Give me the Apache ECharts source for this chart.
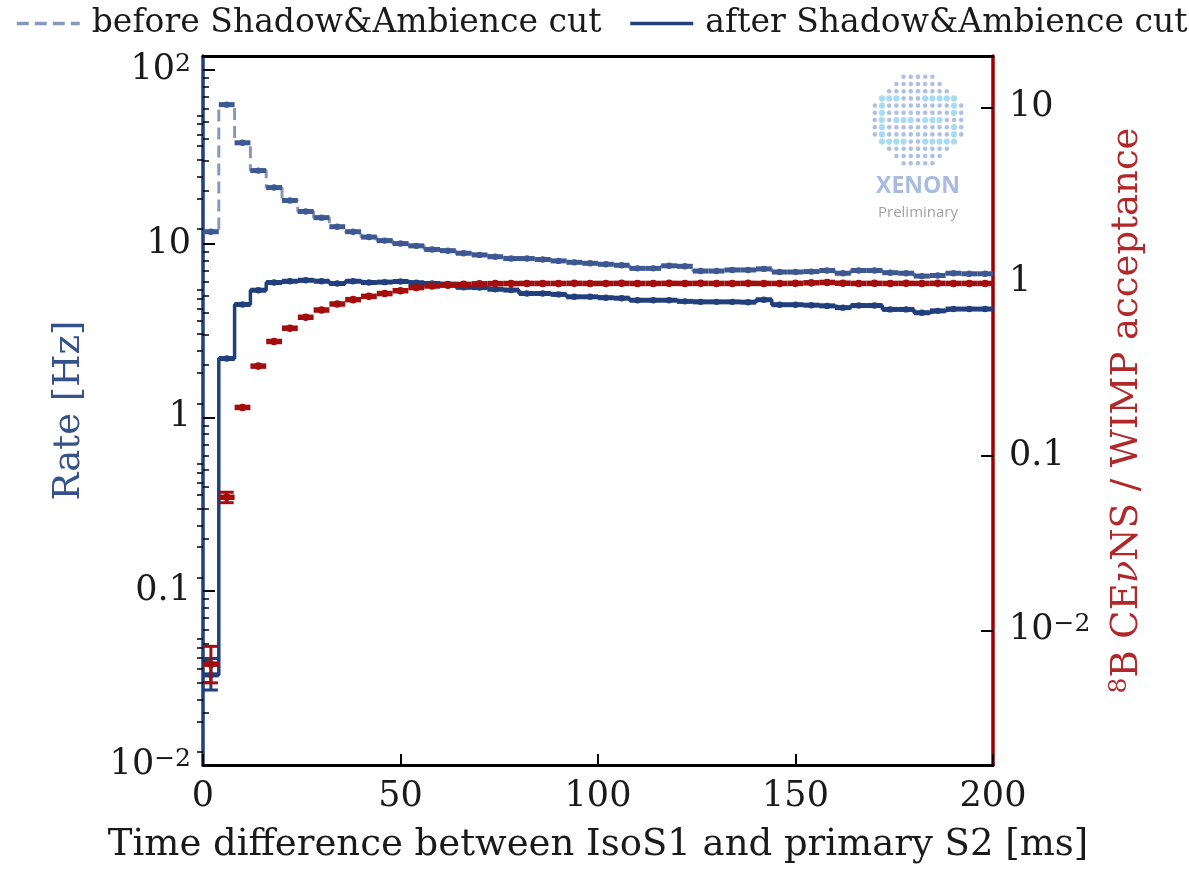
<!DOCTYPE html>
<html><head><meta charset="utf-8">
<script src="https://cdn.jsdelivr.net/npm/echarts@6/dist/echarts.min.js"></script>
<style>html,body{margin:0;padding:0;background:#fff}#chart{width:1189px;height:869px}</style>
</head><body><div id="chart"></div>
<script>
// ---- data ----
const binCenters = [2,6,10,14,18,22,26,30,34,38,42,46,50,54,58,62,66,70,74,78,82,86,90,94,98,102,106,110,114,118,122,126,130,134,138,142,146,150,154,158,162,166,170,174,178,182,186,190,194,198];
const binHalfWidth = 2;
const rateBefore = [11.7,63,38,26.3,21,17.7,15.3,14.1,12.5,11.7,10.9,10.4,10.0,9.7,9.25,9.1,8.8,8.6,8.4,8.2,8.2,8.1,7.95,7.8,7.7,7.6,7.5,7.2,7.2,7.45,7.4,6.95,6.95,7.05,7.05,7.15,6.86,6.86,6.9,7.0,6.75,7.0,7.0,6.8,6.75,6.5,6.55,6.75,6.7,6.7];
const rateAfter = [0.033,2.18,4.46,5.39,5.97,6.07,6.15,6.07,5.89,6.07,5.97,6.0,6.05,5.95,5.89,5.85,5.6,5.58,5.46,5.4,5.16,5.16,5.1,4.94,4.94,4.88,4.85,4.72,4.72,4.72,4.65,4.62,4.62,4.62,4.6,4.75,4.45,4.45,4.42,4.38,4.28,4.4,4.4,4.18,4.18,4.0,4.1,4.2,4.2,4.2];
const acceptance = [0.0064,0.058,0.19,0.328,0.454,0.541,0.625,0.688,0.745,0.789,0.824,0.855,0.887,0.925,0.945,0.955,0.965,0.972,0.975,0.976,0.977,0.977,0.977,0.978,0.977,0.977,0.978,0.977,0.977,0.978,0.977,0.978,0.977,0.977,0.978,0.977,0.977,0.978,0.985,0.99,0.98,0.977,0.978,0.977,0.978,0.977,0.978,0.977,0.977,0.977];
// vertical error bars: [bin index, low, high]
const rateAfterErr = [[0,0.027,0.041]];
const acceptanceErr = [[0,0.0050,0.0081],[1,0.054,0.062]];

const xTicks = [0,50,100,150,200];
const leftTickValues = [0.01,0.1,1,10,100];
const leftTickLabels = ['10{s|\u22122}','0.1','1','10','10{s|2}'];
const rightTickValues = [0.01,0.1,1,10];
const rightTickLabels = ['10{s|\u22122}','0.1','1','10'];

const nameBefore = 'before Shadow&Ambience cut';
const nameAfter = 'after Shadow&Ambience cut';

// ---- styling ----
const FONT = 'DejaVu Serif';
const NAVY = '#213f7c';
const NAVY_LIGHT = '#8798bd';
const NAVY_MID = '#3d5892';
const RED = '#a50d0d';
const TXT = '#1a1a1a';

function minorTicks(lo, hi) {
  const out = [];
  for (let e = -4; e <= 3; e++) for (let m = 2; m <= 9; m++) {
    const v = m * Math.pow(10, e);
    if (v > lo && v < hi) out.push(v);
  }
  return out;
}
function labelFor(values, labels) {
  return function (v) {
    const i = values.findIndex(t => Math.abs(Math.log10(t) - Math.log10(v)) < 1e-6);
    return i >= 0 ? labels[i] : '';
  };
}
const tickRich = {
  s: { fontFamily: FONT, fontSize: 25, lineHeight: 22, verticalAlign: 'top', color: TXT }
};

const LMIN = 0.01, LMAX = 120, RMIN = 0.00169, RMAX = 19.7;

function stepData(vals) {
  const d = binCenters.map((x, i) => [x, vals[i]]);
  d.unshift([binCenters[0] - binHalfWidth, vals[0]]);
  d.push([binCenters[binCenters.length - 1] + binHalfWidth, vals[vals.length - 1]]);
  return d;
}
function errData(vals, errs) {
  return binCenters.map((x, i) => {
    const e = errs.find(r => r[0] === i);
    return [x, vals[i], e ? e[1] : NaN, e ? e[2] : NaN];
  });
}
function errRenderer(color, lw, r) {
  return function (params, api) {
    const x = api.value(0), y = api.value(1), lo = api.value(2), hi = api.value(3);
    const p1 = api.coord([x - binHalfWidth, y]);
    const p2 = api.coord([x + binHalfWidth, y]);
    const c = api.coord([x, y]);
    const children = [
      { type: 'line', shape: { x1: p1[0], y1: p1[1], x2: p2[0], y2: p2[1] }, style: { stroke: color, lineWidth: lw } },
      { type: 'circle', shape: { cx: c[0], cy: c[1], r: r }, style: { fill: color } }
    ];
    if (isFinite(lo) && isFinite(hi)) {
      const a = api.coord([x, lo]), b = api.coord([x, hi]);
      children.push({ type: 'line', shape: { x1: a[0], y1: a[1], x2: b[0], y2: b[1] }, style: { stroke: color, lineWidth: 3 } });
      children.push({ type: 'line', shape: { x1: a[0] - 7, y1: a[1], x2: a[0] + 7, y2: a[1] }, style: { stroke: color, lineWidth: 3 } });
      children.push({ type: 'line', shape: { x1: b[0] - 7, y1: b[1], x2: b[0] + 7, y2: b[1] }, style: { stroke: color, lineWidth: 3 } });
    }
    return { type: 'group', children: children };
  };
}

// logo dots (decoration)
const logo = [];
const LCX = 918, LCY = 120, SP = 7.2;
const hl = (r, c) => (r === 3 && (c <= 3 || c >= 7)) || (r === 9 && (c <= 4 || c >= 7)) ||
  (c === 1 && r >= 3 && r <= 9) || (c === 11 && r >= 3 && r <= 9 && r !== 6) || (r === 6 && c >= 3 && c <= 5) || (r === 6 && c >= 7 && c <= 9);
for (let r = 0; r < 13; r++) for (let c = 0; c < 13; c++) {
  const dx = (c - 6) * SP, dy = (r - 6) * SP;
  if (dx * dx + dy * dy <= 46 * 46) {
    const h = hl(r, c);
    logo.push({ type: 'circle', shape: { cx: LCX + dx, cy: LCY + dy, r: h ? 3.1 : 2.3 }, style: { fill: h ? '#a9dcf2' : '#b0bfe4' }, silent: true });
  }
}
logo.push({ type: 'text', style: { x: LCX, y: 186, text: 'XENON', fill: '#a9bcdf', font: 'bold 23px "Open Sans"', textAlign: 'center', textVerticalAlign: 'middle' } });
logo.push({ type: 'text', style: { x: LCX, y: 213, text: 'Preliminary', fill: '#a2a2a2', font: '15px "Open Sans"', textAlign: 'center', textVerticalAlign: 'middle' } });

const chart = echarts.init(document.getElementById('chart'), null, { renderer: 'canvas' });
chart.setOption({
  animation: false,
  backgroundColor: '#fff',
  textStyle: { fontFamily: FONT },
  legend: {
    data: [nameBefore, nameAfter],
    orient: 'horizontal',
    left: 15, top: 7, width: 1174, padding: 0,
    itemWidth: 63, itemHeight: 14, itemGap: 27,
    itemStyle: { opacity: 0 },
    lineStyle: { width: 3.5 },
    textStyle: { fontFamily: FONT, fontSize: 33, color: TXT, padding: [0, 0, 0, 7] }
  },
  grid: { left: 203, right: 196, top: 56, bottom: 102, containLabel: false },
  graphic: logo,
  xAxis: [
    {
      type: 'value', min: 0, max: 200, interval: 50, position: 'bottom',
      name: 'Time difference between IsoS1 and primary S2 [ms]',
      nameLocation: 'middle', nameGap: 62,
      nameTextStyle: { fontFamily: FONT, fontSize: 37, color: TXT },
      axisLine: { show: true, onZero: false, lineStyle: { color: '#000', width: 3 } },
      axisTick: { show: true, inside: true, length: 11, lineStyle: { color: '#000', width: 2 } },
      axisLabel: { fontFamily: FONT, fontSize: 35, color: TXT, margin: 14 },
      splitLine: { show: false }
    },
    {
      type: 'value', min: 0, max: 200, position: 'top',
      axisLine: { show: true, onZero: false, lineStyle: { color: '#000', width: 3 } },
      axisTick: { show: false }, axisLabel: { show: false }, splitLine: { show: false }
    }
  ],
  yAxis: [
    {
      type: 'log', logBase: 10, min: LMIN, max: LMAX, position: 'left',
      name: 'Rate [Hz]', nameLocation: 'middle', nameGap: 115, nameRotate: 90,
      nameTextStyle: { fontFamily: FONT, fontSize: 37, color: '#36528c' },
      axisLine: { show: true, onZero: false, lineStyle: { color: NAVY, width: 3.5 } },
      axisTick: { show: true, inside: true, length: 12, lineStyle: { color: '#000', width: 2 }, customValues: leftTickValues },
      axisLabel: { customValues: leftTickValues, formatter: labelFor(leftTickValues, leftTickLabels), fontFamily: FONT, fontSize: 35, lineHeight: 36, color: TXT, margin: 12, rich: tickRich },
      splitLine: { show: false }, minorTick: { show: false }
    },
    {
      type: 'log', logBase: 10, min: LMIN, max: LMAX, position: 'left',
      axisLine: { show: false },
      axisTick: { show: true, inside: true, length: 6, lineStyle: { color: '#000', width: 1.5 }, customValues: minorTicks(LMIN, LMAX) },
      axisLabel: { show: false }, splitLine: { show: false }
    },
    {
      type: 'log', logBase: 10, min: RMIN, max: RMAX, position: 'right',
      name: '{s|8}B CE{nu|\u03bd}NS / WIMP acceptance', nameLocation: 'middle', nameGap: 114, nameRotate: 90,
      nameTextStyle: {
        fontFamily: FONT, fontSize: 37, color: '#b0282a', lineHeight: 40,
        rich: {
          s: { fontFamily: FONT, fontSize: 25, lineHeight: 22, verticalAlign: 'top', color: '#b0282a' },
          nu: { fontFamily: FONT, fontSize: 37, fontStyle: 'italic', color: '#b0282a', lineHeight: 40 }
        }
      },
      axisLine: { show: true, onZero: false, lineStyle: { color: '#a00000', width: 3.5 } },
      axisTick: { show: true, inside: true, length: 12, lineStyle: { color: '#000', width: 2 }, customValues: rightTickValues },
      axisLabel: { customValues: rightTickValues, formatter: labelFor(rightTickValues, rightTickLabels), fontFamily: FONT, fontSize: 35, lineHeight: 36, color: TXT, margin: 16, rich: tickRich },
      splitLine: { show: false }
    },
    {
      type: 'log', logBase: 10, min: RMIN, max: RMAX, position: 'right',
      axisLine: { show: false },
      axisTick: { show: true, inside: true, length: 6, lineStyle: { color: '#000', width: 1.5 }, customValues: minorTicks(RMIN, RMAX) },
      axisLabel: { show: false }, splitLine: { show: false }
    }
  ],
  series: [
    {
      name: nameBefore, type: 'line', step: 'middle', xAxisIndex: 0, yAxisIndex: 0,
      data: stepData(rateBefore), symbol: 'none', z: 2,
      lineStyle: { color: NAVY_LIGHT, width: 3, type: [12, 6] }, itemStyle: { color: NAVY_LIGHT }
    },
    {
      name: nameAfter, type: 'line', step: 'middle', xAxisIndex: 0, yAxisIndex: 0,
      data: stepData(rateAfter), symbol: 'none', z: 3,
      lineStyle: { color: NAVY, width: 3.5 }, itemStyle: { color: NAVY }
    },
    {
      type: 'custom', xAxisIndex: 0, yAxisIndex: 0, z: 4, clip: true,
      data: errData(rateBefore, []), renderItem: errRenderer(NAVY_MID, 5, 3.2)
    },
    {
      type: 'custom', xAxisIndex: 0, yAxisIndex: 0, z: 4, clip: true,
      data: errData(rateAfter, rateAfterErr), renderItem: errRenderer(NAVY, 5, 3.2)
    },
    {
      type: 'custom', xAxisIndex: 0, yAxisIndex: 2, z: 5, clip: true,
      data: errData(acceptance, acceptanceErr), renderItem: errRenderer(RED, 5.5, 3.8)
    }
  ]
});
</script></body></html>
